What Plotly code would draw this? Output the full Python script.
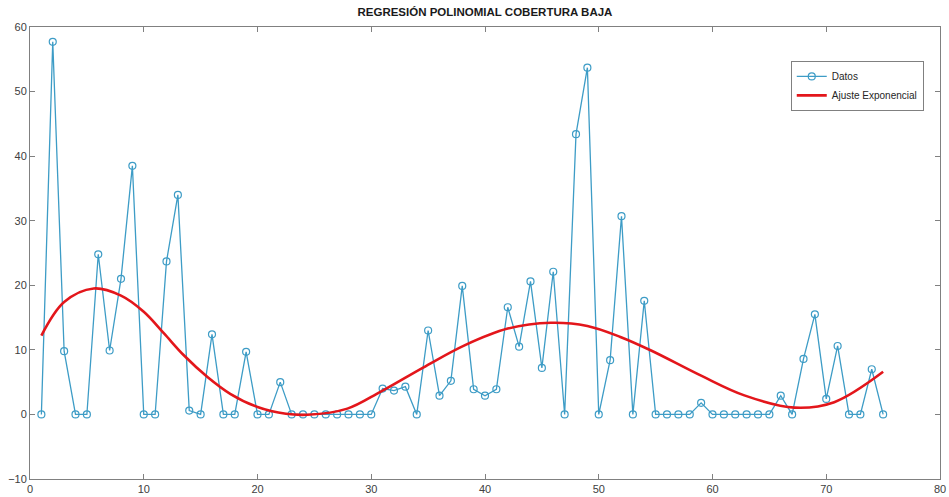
import plotly.graph_objects as go

# Data points (x = 1..75)
x_datos = list(range(1, 76))
y_datos = [
    0, 57.7, 9.8, 0, 0, 24.8, 9.9, 21.0, 38.5, 0,
    0, 23.7, 34.0, 0.6, 0, 12.4, 0, 0, 9.7, 0,
    0, 5.0, 0, 0, 0, 0, 0, 0, 0, 0,
    4.0, 3.7, 4.3, 0, 13.0, 2.9, 5.2, 19.9, 3.9, 2.9,
    3.9, 16.6, 10.5, 20.6, 7.2, 22.1, 0, 43.4, 53.7, 0,
    8.4, 30.7, 0, 17.6, 0, 0, 0, 0, 1.8, 0,
    0, 0, 0, 0, 0, 2.9, 0, 8.6, 15.5, 2.4,
    10.6, 0, 0, 7.0, 0,
]

# Fitted curve
x_ajuste = [1.0, 3.0, 5.6, 8.0, 10.0, 11.8, 13.5, 15.6, 17.6, 20.0, 22.5,
            24.4, 27.9, 30.8, 34.6, 38.2, 42.0, 45.8, 49.0, 51.9, 54.6,
            59.0, 62.8, 67.2, 70.7, 75.0]
y_ajuste = [12.2, 17.4, 19.5, 18.4, 15.9, 12.5, 9.2, 5.8, 3.2, 1.15, 0.1,
            -0.05, 0.9, 3.5, 7.3, 10.7, 13.3, 14.2, 13.7, 12.0, 9.9,
            6.0, 2.95, 1.05, 1.9, 6.6]

x_ticks = [0, 10, 20, 30, 40, 50, 60, 70, 80]
y_ticks = [-10, 0, 10, 20, 30, 40, 50, 60]

blue = "#3d9cc6"
red = "#e3161b"

fig = go.Figure()
fig.add_trace(go.Scatter(
    x=x_datos, y=y_datos, mode="lines+markers", name="Datos",
    line=dict(color=blue, width=1.3),
    marker=dict(symbol="circle-open", size=7, color=blue, line=dict(width=1.2, color=blue)),
))
fig.add_trace(go.Scatter(
    x=x_ajuste, y=y_ajuste, mode="lines", name="Ajuste Exponencial",
    line=dict(color=red, width=2.6, shape="spline", smoothing=1.0),
))

axis_common = dict(
    showgrid=False, zeroline=False, showline=True, linecolor="#808080", linewidth=1,
    mirror="allticks", ticks="inside", ticklen=5, tickcolor="#808080", automargin=False,
    tickfont=dict(family="Liberation Sans, Arial, sans-serif", size=11, color="#404040"),
)

fig.update_layout(
    width=949, height=497,
    margin=dict(l=30, r=9, t=27, b=18),
    paper_bgcolor="white", plot_bgcolor="white",
    title=dict(text="<b>REGRESIÓN POLINOMIAL COBERTURA BAJA</b>", x=0.511, xanchor="center",
               y=0.976, yanchor="middle", automargin=False,
               font=dict(family="Liberation Sans, Arial, sans-serif", size=11.5, color="#1a1a1a")),
    xaxis=dict(range=[0, 80], tickvals=x_ticks, **axis_common),
    yaxis=dict(range=[-10, 60], tickvals=y_ticks, **axis_common),
    legend=dict(x=0.836, y=0.925, xanchor="left", yanchor="top",
                bordercolor="#808080", borderwidth=1, bgcolor="white",
                font=dict(family="Liberation Sans, Arial, sans-serif", size=10, color="#262626"),
                tracegroupgap=0, itemwidth=30),
    showlegend=True,
)

fig.write_html("out.html")
